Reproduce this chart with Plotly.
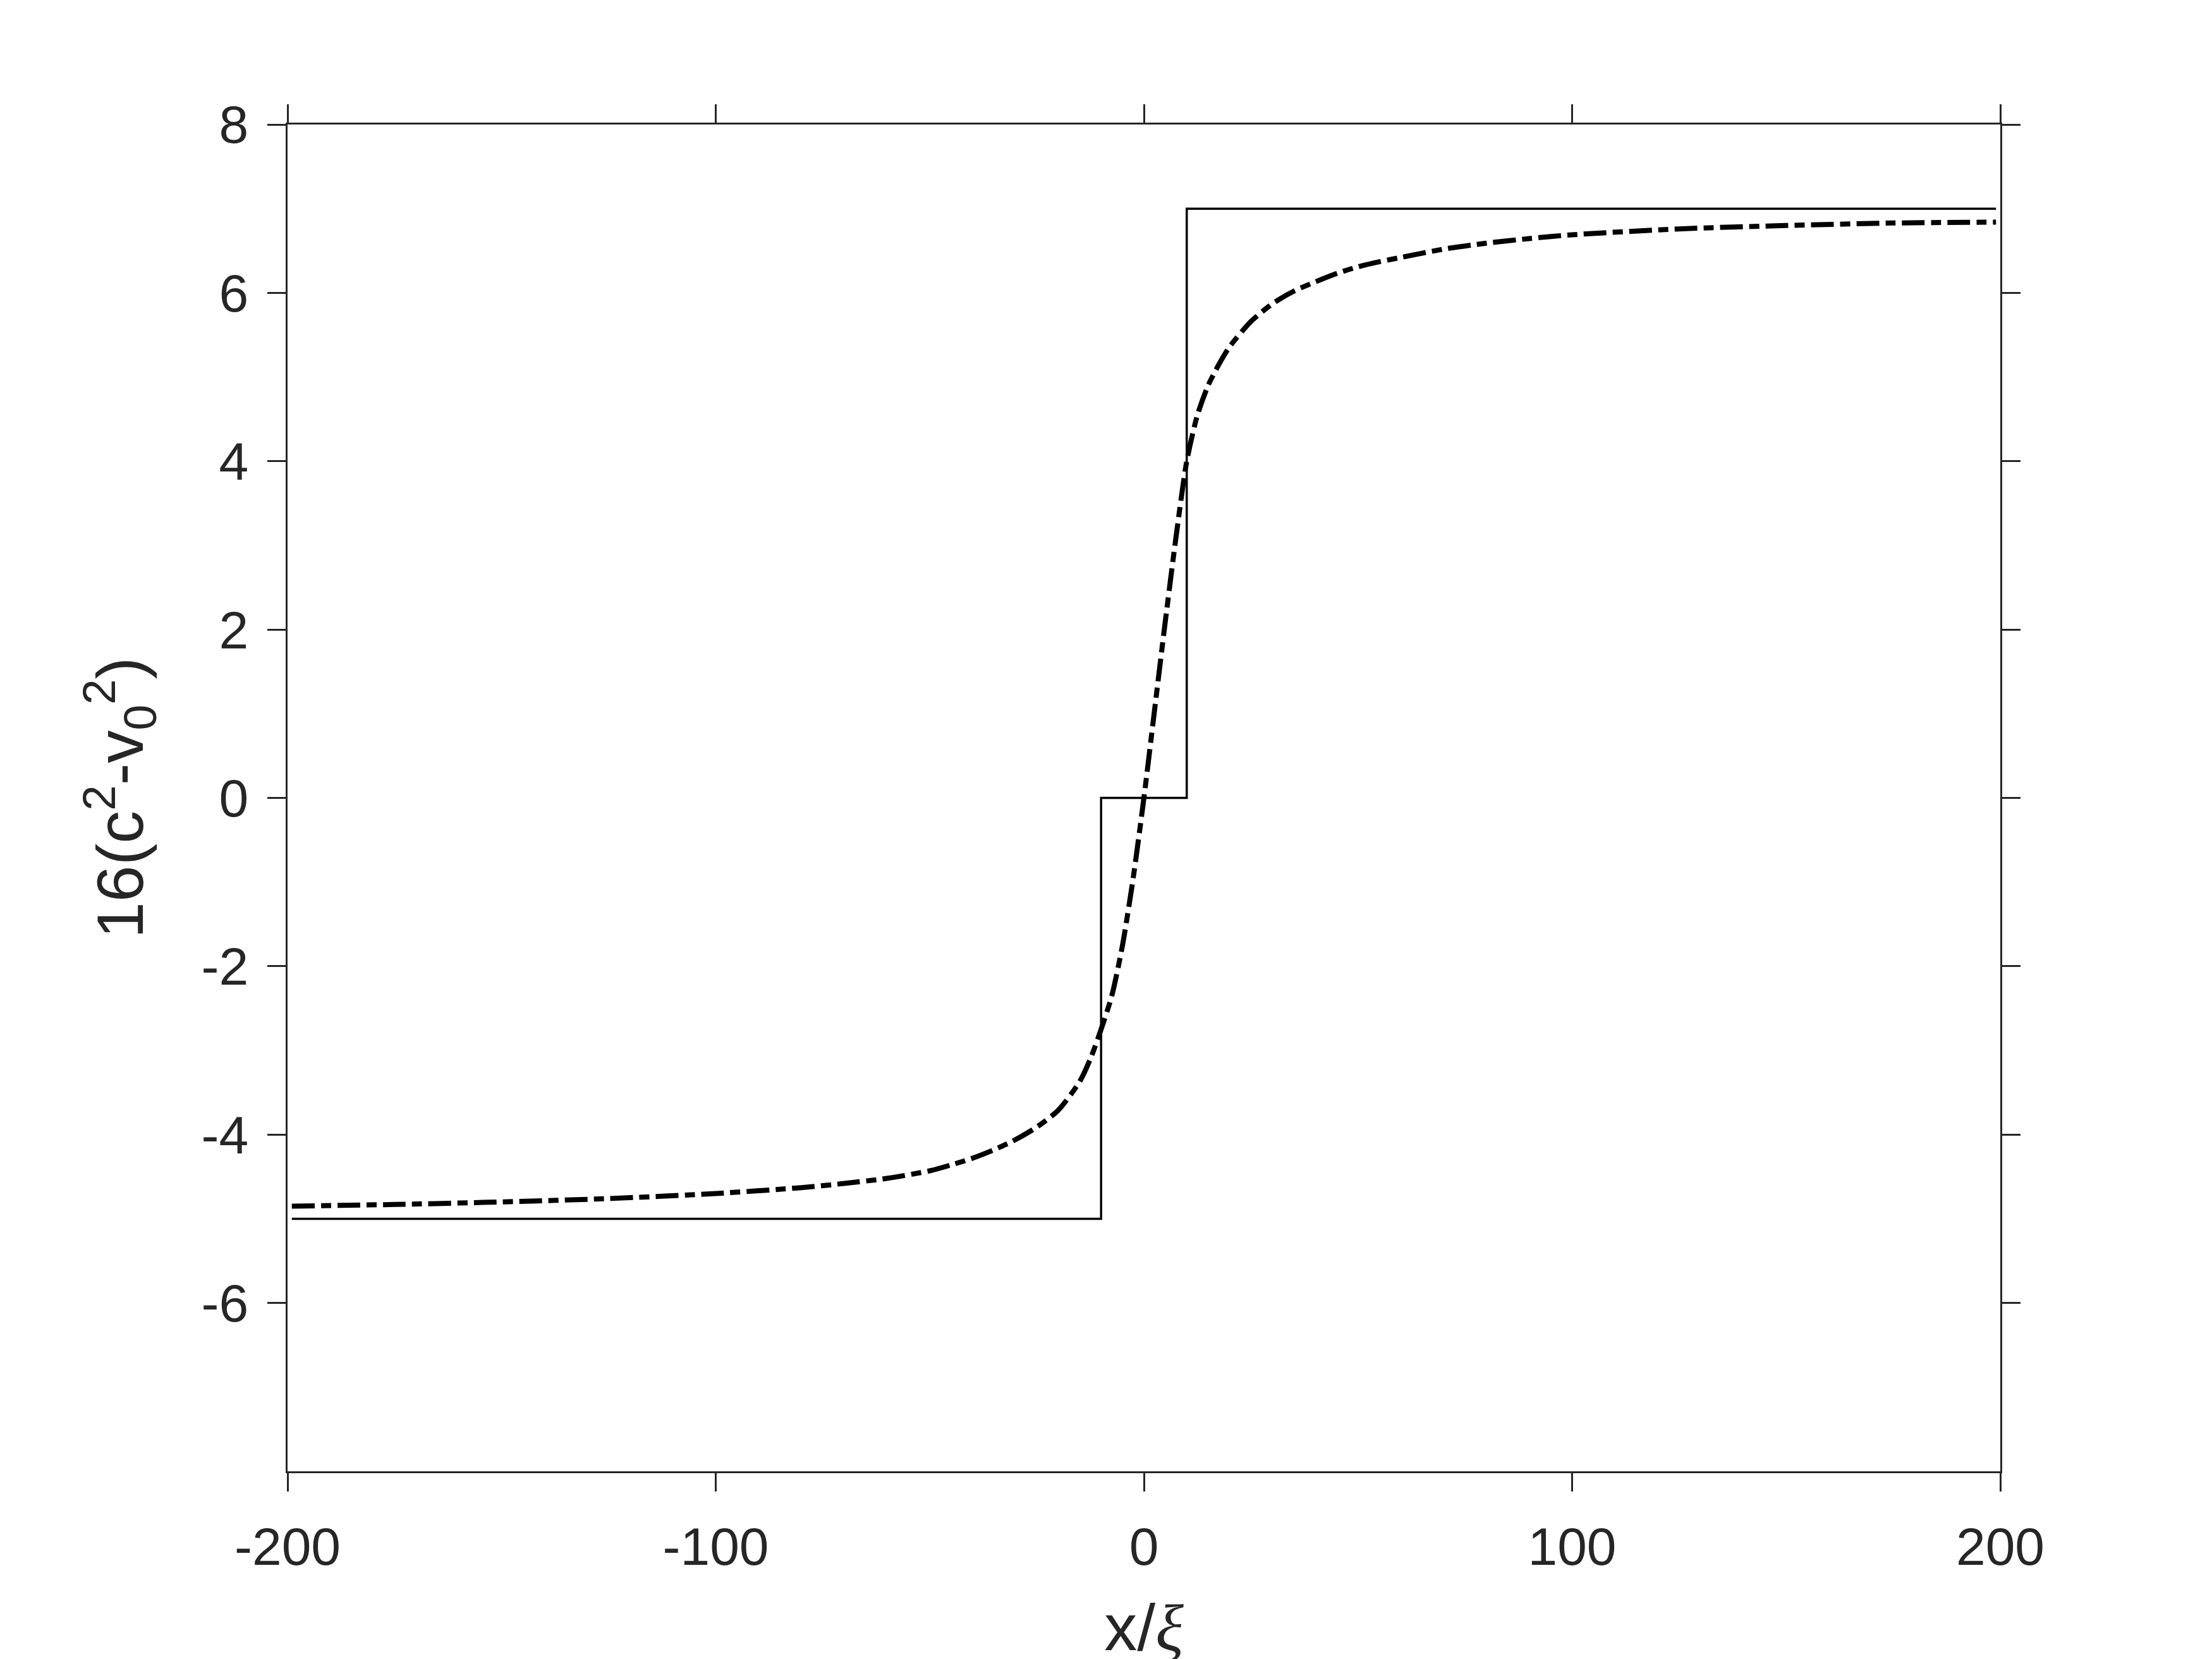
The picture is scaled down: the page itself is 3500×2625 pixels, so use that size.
import plotly.graph_objects as go

# step profile (solid)
step_x = [-199, -10, -10, 10, 10, 199]
step_y = [-5, -5, 0, 0, 7, 7]

# smooth profile (dash-dot)
smooth_x = [-199, -175, -150, -125, -100, -80, -70, -60, -50, -45, -40, -35, -30, -25, -20,
            -15, -12.5, -10, -7.5, -5, -2.5, 0, 2.5, 5, 7.5, 10, 12.5, 15, 17.5, 20, 25,
            30, 35, 40, 45, 50, 55, 60, 70, 80, 90, 100, 125, 150, 175, 199]
smooth_y = [-4.85, -4.83, -4.80, -4.76, -4.70, -4.63, -4.58, -4.52, -4.43, -4.36, -4.28,
            -4.18, -4.06, -3.91, -3.71, -3.37, -3.10, -2.75, -2.35, -1.75, -0.95, 0.0,
            1.05, 2.10, 3.10, 4.00, 4.55, 4.90, 5.15, 5.36, 5.66, 5.87, 6.02, 6.13, 6.23,
            6.31, 6.37, 6.42, 6.52, 6.59, 6.645, 6.69, 6.76, 6.80, 6.83, 6.84]

x_ticks = [-200, -100, 0, 100, 200]
x_labels = ["-200", "-100", "0", "100", "200"]
y_ticks = [-6, -4, -2, 0, 2, 4, 6, 8]
y_labels = ["-6", "-4", "-2", "0", "2", "4", "6", "8"]

axis_col = "#262626"
font = "Liberation Sans, Arial, sans-serif"

fig = go.Figure()

fig.add_trace(go.Scatter(
    x=step_x, y=step_y,
    mode="lines",
    line=dict(color="black", width=3.5),
    showlegend=False
))

fig.add_trace(go.Scatter(
    x=smooth_x, y=smooth_y,
    mode="lines",
    line=dict(color="black", width=8, dash="36px,10px,16px,10px", shape="spline", smoothing=0.7),
    showlegend=False
))

fig.update_layout(
    template="none",
    width=3500, height=2625,
    paper_bgcolor="white", plot_bgcolor="white",
    margin=dict(l=447, r=343, t=189, b=305),
    font=dict(family=font, size=84, color=axis_col),
    xaxis=dict(
        range=[-200, 200],
        tickvals=x_ticks, ticktext=x_labels,
        ticks="outside", ticklen=29, tickwidth=3, tickcolor=axis_col,
        showline=True, linewidth=3, linecolor=axis_col, mirror="ticks",
        showgrid=False, zeroline=False, automargin=False,
        ticklabelstandoff=15,
        title=dict(text='x/<span style="font-family:Liberation Serif, Times New Roman, serif"><i>ξ</i></span>',
                   font=dict(size=104), standoff=60),
    ),
    yaxis=dict(
        range=[-8, 8],
        tickvals=y_ticks, ticktext=y_labels,
        ticks="outside", ticklen=29, tickwidth=3, tickcolor=axis_col,
        showline=True, linewidth=3, linecolor=axis_col, mirror="ticks",
        showgrid=False, zeroline=False, automargin=False,
        ticklabelstandoff=13,
        title=dict(text="16(c<sup>2</sup>-v<sub>0</sub><sup>2</sup>)", font=dict(size=104), standoff=58),
    ),
)

fig.write_html("out.html")
